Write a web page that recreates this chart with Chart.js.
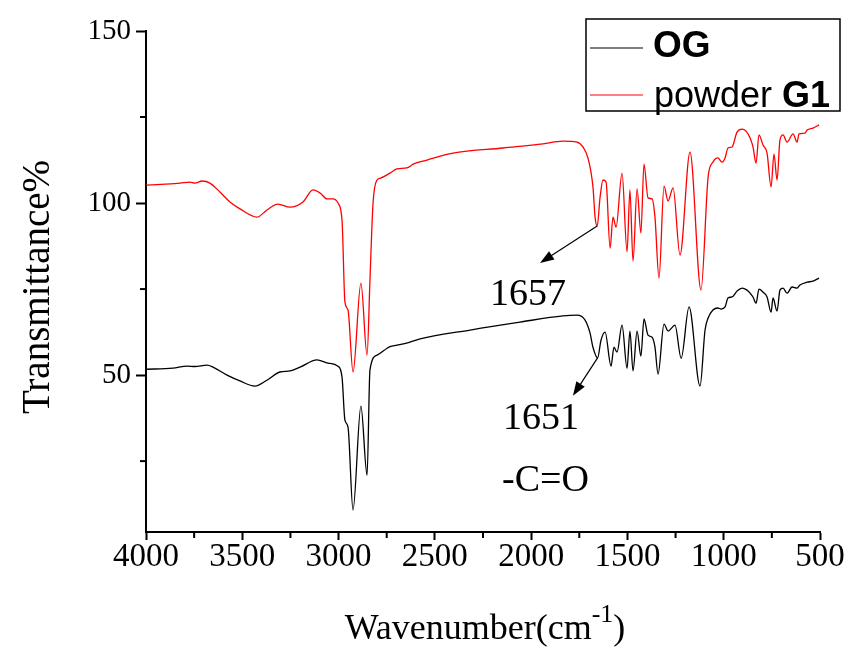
<!DOCTYPE html>
<html>
<head>
<meta charset="utf-8">
<script src="https://cdn.jsdelivr.net/npm/chart.js@4.4.1/dist/chart.umd.min.js"></script>
<style>
  html, body { margin: 0; padding: 0; background: #fff; }
  #wrap { width: 849px; height: 648px; }
</style>
</head>
<body>
<div id="wrap"><canvas id="ftir" width="849" height="648"></canvas></div>
<script>
// ================= DATA =================
const xTicks = [4000, 3500, 3000, 2500, 2000, 1500, 1000, 500];
const yTicks = [50, 100, 150];

// powder G1 (red)
const g1Wave = [4000, 3900, 3823, 3772, 3746, 3709, 3668, 3616, 3564, 3512, 3424, 3372, 3315, 3252, 3185, 3133, 3096, 3060, 3029, 3003, 2982, 2967, 2951, 2925, 2884, 2852, 2837, 2821, 2800, 2785, 2733, 2697, 2645, 2613, 2541, 2406, 2146, 1938, 1835, 1762, 1731, 1705, 1679, 1668, 1657, 1642, 1627, 1611, 1590, 1575, 1559, 1528, 1502, 1487, 1471, 1450, 1430, 1414, 1393, 1372, 1357, 1336, 1310, 1289, 1263, 1227, 1175, 1118, 1081, 1056, 1030, 1009, 993, 978, 957, 931, 905, 884, 863, 848, 832, 817, 796, 775, 754, 739, 723, 708, 692, 671, 640, 619, 609, 578, 567, 536, 505];
const g1Trans = [105.2, 105.5, 105.8, 106.1, 105.8, 106.4, 105.8, 103.2, 100.3, 98.3, 95.9, 98.0, 99.7, 98.8, 100.3, 103.8, 102.9, 101.2, 101.2, 100.0, 95.0, 71.2, 68.9, 50.9, 76.7, 55.8, 77.6, 100.0, 106.7, 107.2, 108.7, 109.9, 110.2, 111.3, 112.5, 114.5, 116.0, 117.2, 118.0, 117.7, 116.3, 113.1, 104.7, 95.9, 93.3, 101.7, 106.7, 106.1, 86.9, 95.9, 93.0, 108.7, 85.8, 103.8, 83.1, 104.1, 91.3, 111.3, 101.5, 101.2, 95.9, 78.2, 104.9, 100.6, 104.4, 84.9, 114.8, 74.7, 107.6, 111.9, 113.1, 111.9, 113.1, 116.0, 116.3, 120.6, 121.5, 120.9, 118.9, 116.3, 111.6, 119.8, 116.9, 114.5, 104.7, 114.2, 106.7, 118.3, 119.8, 117.7, 120.1, 117.7, 120.1, 120.3, 121.2, 121.8, 122.7];

// OG (black)
const ogWave = [4000, 3860, 3787, 3746, 3683, 3652, 3579, 3512, 3434, 3372, 3304, 3252, 3200, 3112, 3055, 3003, 2982, 2967, 2951, 2925, 2884, 2852, 2837, 2800, 2748, 2733, 2697, 2629, 2577, 2317, 2058, 1835, 1762, 1720, 1694, 1679, 1655, 1637, 1616, 1585, 1570, 1554, 1528, 1502, 1487, 1471, 1450, 1430, 1414, 1393, 1372, 1357, 1341, 1310, 1289, 1253, 1221, 1180, 1123, 1097, 1081, 1056, 1030, 1014, 993, 978, 957, 931, 905, 879, 863, 848, 832, 817, 796, 775, 754, 744, 723, 708, 692, 671, 645, 619, 604, 567, 536, 505];
const ogTrans = [51.7, 52.0, 52.6, 52.5, 52.9, 52.3, 50.0, 48.3, 46.8, 48.5, 50.9, 51.2, 52.3, 54.4, 53.5, 52.6, 49.4, 36.9, 34.9, 10.8, 41.0, 20.9, 51.5, 55.8, 57.8, 58.3, 58.7, 59.6, 60.5, 63.1, 65.4, 67.2, 67.4, 66.0, 62.2, 58.1, 55.0, 60.2, 62.5, 52.6, 58.1, 56.7, 64.5, 52.0, 62.8, 51.2, 62.8, 55.5, 66.3, 61.6, 61.0, 58.1, 50.3, 64.8, 62.8, 64.5, 54.9, 69.8, 46.8, 63.1, 66.6, 68.9, 69.5, 69.2, 69.8, 72.4, 72.7, 74.4, 75.3, 74.7, 73.8, 72.7, 70.9, 75.0, 74.1, 72.7, 68.3, 72.4, 68.6, 74.7, 75.3, 73.8, 75.6, 75.3, 76.2, 77.0, 77.3, 78.2];

const serif = "'Liberation Serif', 'Times New Roman', serif";
const sans = "'Liberation Sans', Arial, sans-serif";

function toPoints(xs, ys){
  return xs.map((x, i) => ({ x: x, y: ys[i] }));
}

// ================= DECORATIONS =================
// minor ticks, arrows, peak labels, axis titles, legend box
const decor = {
  id: "decor",
  afterDraw(chart){
    const ctx = chart.ctx;
    const xs = chart.scales.x;
    const ys = chart.scales.y;
    const area = chart.chartArea;

    ctx.save();
    ctx.strokeStyle = "#000";
    ctx.lineWidth = 2;

    // minor ticks
    for(let v = 750; v < 4000; v += 500){
      const px = xs.getPixelForValue(v);
      ctx.beginPath();
      ctx.moveTo(px, area.bottom);
      ctx.lineTo(px, area.bottom + 6);
      ctx.stroke();
    }
    [25, 75, 125].forEach(v => {
      const py = ys.getPixelForValue(v);
      ctx.beginPath();
      ctx.moveTo(area.left, py);
      ctx.lineTo(area.left - 6, py);
      ctx.stroke();
    });

    // arrows
    function arrow(x1, y1, x2, y2){
      const ax = xs.getPixelForValue(x1), ay = ys.getPixelForValue(y1);
      const bx = xs.getPixelForValue(x2), by = ys.getPixelForValue(y2);
      const ang = Math.atan2(by - ay, bx - ax);
      ctx.lineWidth = 1.2;
      ctx.beginPath();
      ctx.moveTo(ax, ay);
      ctx.lineTo(bx - 10 * Math.cos(ang), by - 10 * Math.sin(ang));
      ctx.stroke();
      ctx.fillStyle = "#000";
      ctx.beginPath();
      ctx.moveTo(bx, by);
      ctx.lineTo(bx - 14 * Math.cos(ang) + 5 * Math.sin(ang), by - 14 * Math.sin(ang) - 5 * Math.cos(ang));
      ctx.lineTo(bx - 14 * Math.cos(ang) - 5 * Math.sin(ang), by - 14 * Math.sin(ang) + 5 * Math.cos(ang));
      ctx.closePath();
      ctx.fill();
    }
    arrow(1657, 93.3, 1954, 82.6);
    arrow(1655, 55.0, 1783, 44.0);

    // peak labels
    ctx.fillStyle = "#000";
    ctx.textAlign = "left";
    ctx.textBaseline = "alphabetic";
    ctx.font = "38px " + serif;
    ctx.fillText("1657", xs.getPixelForValue(2214), ys.getPixelForValue(70.5));
    ctx.fillText("1651", xs.getPixelForValue(2146), ys.getPixelForValue(34.3));
    ctx.fillText("-C=O", xs.getPixelForValue(2151), ys.getPixelForValue(16.2));

    // x title with superscript
    ctx.font = "36px " + serif;
    const t1 = "Wavenumber(cm";
    const w1 = ctx.measureText(t1).width;
    ctx.font = "26px " + serif;
    const w2 = ctx.measureText("-1").width;
    ctx.font = "36px " + serif;
    const w3 = ctx.measureText(")").width;
    let tx = 485 - (w1 + w2 + w3) / 2;
    ctx.fillText(t1, tx, 639);
    ctx.font = "26px " + serif;
    ctx.fillText("-1", tx + w1, 622);
    ctx.font = "36px " + serif;
    ctx.fillText(")", tx + w1 + w2, 639);

    // y title
    ctx.save();
    ctx.translate(49, 287);
    ctx.rotate(-Math.PI / 2);
    ctx.textAlign = "center";
    ctx.font = "39px " + serif;
    ctx.fillText("Transmittance%", 0, 0);
    ctx.restore();

    // legend
    ctx.lineWidth = 1.5;
    ctx.strokeStyle = "#000";
    ctx.strokeRect(586, 19, 254, 92);
    ctx.lineWidth = 1.2;
    ctx.strokeStyle = "#000";
    ctx.beginPath(); ctx.moveTo(590, 48); ctx.lineTo(643, 48); ctx.stroke();
    ctx.strokeStyle = "#ff0000";
    ctx.beginPath(); ctx.moveTo(590, 95); ctx.lineTo(643, 95); ctx.stroke();
    ctx.fillStyle = "#000";
    ctx.font = "bold 37px " + sans;
    ctx.fillText("OG", 653, 57);
    ctx.font = "36px " + sans;
    ctx.fillText("powder ", 654, 107);
    const pw = ctx.measureText("powder ").width;
    ctx.font = "bold 36px " + sans;
    ctx.fillText("G1", 654 + pw, 107);

    ctx.restore();
  }
};

// ================= CHART =================
new Chart(document.getElementById("ftir"), {
  type: "line",
  data: {
    datasets: [
      {
        label: "OG",
        data: toPoints(ogWave, ogTrans),
        borderColor: "#000000",
        borderWidth: 1.3,
        pointRadius: 0,
        cubicInterpolationMode: "monotone",
        fill: false
      },
      {
        label: "powder G1",
        data: toPoints(g1Wave, g1Trans),
        borderColor: "#ff0000",
        borderWidth: 1.3,
        pointRadius: 0,
        cubicInterpolationMode: "monotone",
        fill: false
      }
    ]
  },
  options: {
    responsive: false,
    animation: false,
    layout: { padding: { top: 31, right: 29, left: 0, bottom: 0 } },
    plugins: {
      legend: { display: false },
      tooltip: { enabled: false }
    },
    scales: {
      x: {
        type: "linear",
        reverse: true,
        min: 500,
        max: 4000,
        afterBuildTicks: s => { s.ticks = xTicks.map(v => ({ value: v })); },
        afterFit: s => { s.height = 116; },
        grid: { drawOnChartArea: false, drawTicks: true, tickLength: 8, tickWidth: 2, tickColor: "#000" },
        border: { display: true, color: "#000", width: 2 },
        ticks: { color: "#000", padding: -2, maxRotation: 0, autoSkip: false, callback: v => String(v), font: { family: serif, size: 33 } }
      },
      y: {
        type: "linear",
        min: 4.4,
        max: 150,
        afterBuildTicks: s => { s.ticks = yTicks.map(v => ({ value: v })); },
        afterFit: s => { s.width = 146; },
        grid: { drawOnChartArea: false, drawTicks: true, tickLength: 10, tickWidth: 2, tickColor: "#000" },
        border: { display: true, color: "#000", width: 2 },
        ticks: { color: "#000", padding: 5, callback: v => String(v), font: { family: serif, size: 29 } }
      }
    }
  },
  plugins: [decor]
});
</script>
</body>
</html>
